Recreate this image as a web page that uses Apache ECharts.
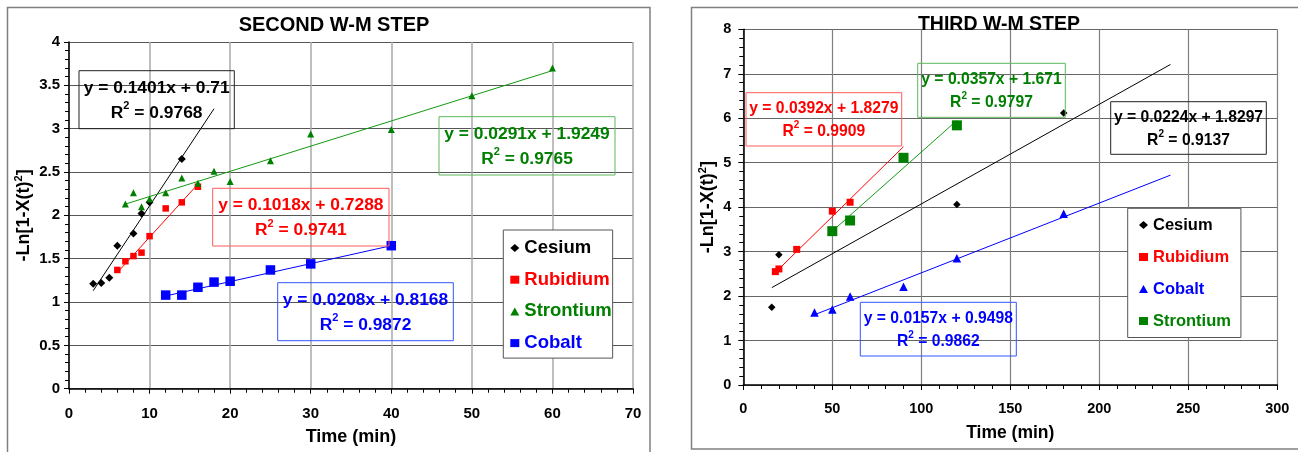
<!DOCTYPE html>
<html>
<head>
<meta charset="utf-8">
<script src="https://cdn.jsdelivr.net/npm/echarts@6/dist/echarts.min.js"></script>
<style>
html, body { margin: 0; padding: 0; background: #fff; }
#chart { width: 1298px; height: 452px; }
</style>
</head>
<body>
<div id="chart"></div>
<script>
// SECOND W-M STEP  [time (min), -Ln[1-X(t)^2]]
var secCesium = [[3, 1.21], [4, 1.22], [5, 1.28], [6, 1.65], [8, 1.79], [9, 2.02], [10, 2.15], [14, 2.65]];
var secRubidium = [[6, 1.37], [7, 1.47], [8, 1.53], [9, 1.57], [10, 1.76], [12, 2.08], [14, 2.15], [16, 2.33]];
var secStrontium = [[7, 2.13], [8, 2.26], [9, 2.10], [10, 2.19], [12, 2.26], [14, 2.43], [16, 2.37], [18, 2.51],
	[20, 2.39], [25, 2.63], [30, 2.94], [40, 2.99], [50, 3.38], [60, 3.70]];
var secCobalt = [[12, 1.08], [14, 1.08], [16, 1.17], [18, 1.23], [20, 1.24], [25, 1.37], [30, 1.44], [40, 1.65]];
// trend line end points
var secCesiumFit = [[3, 1.13], [18, 3.23]];
var secRubidiumFit = [[6, 1.34], [16, 2.36]];
var secStrontiumFit = [[7, 2.13], [60, 3.67]];
var secCobaltFit = [[12, 1.07], [40, 1.65]];
var secEquations = ['y = 0.1401x + 0.71', 'y = 0.1018x + 0.7288', 'y = 0.0291x + 1.9249', 'y = 0.0208x + 0.8168'];
var secR2 = ['0.9768', '0.9741', '0.9765', '0.9872'];

// THIRD W-M STEP
var thiCesium = [[16, 1.75], [20, 2.93], [120, 4.06], [180, 6.12]];
var thiRubidium = [[18, 2.55], [20, 2.61], [30, 3.05], [50, 3.91], [60, 4.11]];
var thiCobalt = [[40, 1.63], [50, 1.70], [60, 1.99], [90, 2.21], [120, 2.85], [180, 3.85]];
var thiStrontium = [[50, 3.46], [60, 3.70], [90, 5.11], [120, 5.84]];
var thiCesiumFit = [[16, 2.19], [240, 7.21]];
var thiRubidiumFit = [[18, 2.53], [90, 5.36]];
var thiCobaltFit = [[40, 1.58], [240, 4.72]];
var thiStrontiumFit = [[50, 3.46], [120, 5.95]];
var thiEquations = ['y = 0.0224x + 1.8297', 'y = 0.0392x + 1.8279', 'y = 0.0157x + 0.9498', 'y = 0.0357x + 1.671'];
var thiR2 = ['0.9137', '0.9909', '0.9862', '0.9797'];

var titles = ['SECOND W-M STEP', 'THIRD W-M STEP'];
var xName = 'Time (min)';
var yName = '-Ln[1-X(t){s|2}]';

var FONT = 'Liberation Sans, Arial, sans-serif';
var BLACK = '#000000', RED = '#ff0000', GREEN = '#008000', BLUE = '#0000ff';

function pts(name, data, gi, symbol, size, color) {
	return {
		name: name, type: 'scatter', xAxisIndex: gi, yAxisIndex: gi,
		symbol: symbol, symbolSize: size, data: data, z: 4,
		itemStyle: { color: color, opacity: 1 }
	};
}

function fit(data, gi, color) {
	return {
		name: 'fit', type: 'line', xAxisIndex: gi, yAxisIndex: gi,
		data: data, symbol: 'none', silent: true, z: 3,
		lineStyle: { color: color, width: 1 }
	};
}

function xAxisOf(gi, max, interval, fs, margin, gap, splitColor, splitWidth) {
	return {
		type: 'value', gridIndex: gi, min: 0, max: max, interval: interval,
		name: xName, nameLocation: 'middle', nameGap: gap,
		nameTextStyle: { fontSize: fs + 3, fontWeight: 'bold', color: BLACK, fontFamily: FONT },
		axisLine: { show: true, onZero: false, lineStyle: { color: BLACK, width: 1.5 } },
		axisTick: { show: true, length: 5, lineStyle: { color: BLACK } },
		minorTick: { show: true, splitNumber: 5, length: 4, lineStyle: { color: BLACK } },
		axisLabel: { fontSize: fs, fontWeight: 'bold', color: BLACK, fontFamily: FONT, margin: margin },
		splitLine: { show: true, lineStyle: { color: splitColor, width: splitWidth } }
	};
}

function yAxisOf(gi, max, interval, fs, margin, gap, splitColor) {
	return {
		type: 'value', gridIndex: gi, min: 0, max: max, interval: interval,
		name: yName, nameLocation: 'middle', nameGap: gap, nameRotate: 90,
		nameTextStyle: {
			fontSize: 18, fontWeight: 'bold', color: BLACK, fontFamily: FONT, lineHeight: 22,
			rich: { s: { fontSize: 11, fontWeight: 'bold', color: BLACK, fontFamily: FONT, verticalAlign: 'top', lineHeight: 16 } }
		},
		axisLine: { show: true, onZero: false, lineStyle: { color: BLACK, width: 1.5 } },
		axisTick: { show: true, length: 5, lineStyle: { color: BLACK } },
		minorTick: { show: true, splitNumber: 5, length: 4, lineStyle: { color: BLACK } },
		axisLabel: { fontSize: fs, fontWeight: 'bold', color: BLACK, fontFamily: FONT, margin: margin },
		splitLine: { show: true, lineStyle: { color: splitColor, width: 1 } }
	};
}

function legendItem(name, icon, color) {
	return { name: name, icon: icon, textStyle: { color: color } };
}

// equation box: rect + centred two-line rich text
function eqBox(x, y, w, h, eq, r2, color, border, fs, lh) {
	var m = { fontSize: fs, fontWeight: 'bold', fontFamily: FONT, fill: color, lineHeight: lh };
	var s = { fontSize: Math.round(fs * 0.65), fontWeight: 'bold', fontFamily: FONT, fill: color, lineHeight: lh - 5, verticalAlign: 'top' };
	return [
		{ type: 'rect', shape: { x: x, y: y, width: w, height: h }, style: { fill: 'none', stroke: border, lineWidth: 1 }, z: 10 },
		{
			type: 'text', x: x + w / 2, y: y + h / 2 + 1, z: 11,
			style: {
				text: '{m|' + eq + '}\n{m|R}{s|2}{m| = ' + r2 + '}',
				align: 'center', verticalAlign: 'middle',
				rich: { m: m, s: s }
			}
		}
	];
}

var graphics = [
	{ type: 'rect', shape: { x: 7.5, y: 7.5, width: 642.5, height: 470 }, style: { fill: 'none', stroke: '#808080', lineWidth: 1.5 }, z: 1 },
	{ type: 'rect', shape: { x: 691.5, y: 7.5, width: 640, height: 441.5 }, style: { fill: 'none', stroke: '#808080', lineWidth: 1.5 }, z: 1 },
	{ type: 'text', x: 334, y: 25, z: 10, style: { text: titles[0], align: 'center', verticalAlign: 'middle', fontSize: 20, fontWeight: 'bold', fontFamily: FONT, fill: BLACK } },
	{ type: 'text', x: 999, y: 24.5, z: 10, style: { text: titles[1], align: 'center', verticalAlign: 'middle', fontSize: 19.5, fontWeight: 'bold', fontFamily: FONT, fill: BLACK } }
];
graphics = graphics
	.concat(eqBox(79, 70.7, 155.3, 58, secEquations[0], secR2[0], BLACK, '#222222', 17.4, 25))
	.concat(eqBox(212.7, 188.3, 176.3, 57.7, secEquations[1], secR2[1], RED, '#ff5a5a', 17.4, 25))
	.concat(eqBox(439, 116.7, 176, 58.3, secEquations[2], secR2[2], GREEN, '#5cb85c', 17.4, 25))
	.concat(eqBox(277.7, 282.7, 175.6, 58, secEquations[3], secR2[3], BLUE, '#3355ff', 17.4, 25))
	.concat(eqBox(1110.7, 101.7, 155.6, 52.6, thiEquations[0], thiR2[0], BLACK, '#222222', 15.7, 23))
	.concat(eqBox(746, 92.7, 155.7, 53.3, thiEquations[1], thiR2[1], RED, '#ff5a5a', 15.7, 23))
	.concat(eqBox(860.3, 302.3, 156, 53.7, thiEquations[2], thiR2[2], BLUE, '#3355ff', 15.7, 23))
	.concat(eqBox(917.7, 63.3, 147.6, 54, thiEquations[3], thiR2[3], GREEN, '#5cb85c', 15.7, 23));

var chart = echarts.init(document.getElementById('chart'), null, { renderer: 'canvas' });

var option = {
	backgroundColor: '#ffffff',
	animation: false,
	textStyle: { fontFamily: FONT },
	grid: [
		{ left: 69, top: 42, width: 564, height: 346.7, containLabel: false },
		{ left: 743.3, top: 29.3, width: 534, height: 355.7, containLabel: false }
	],
	xAxis: [
		xAxisOf(0, 70, 10, 15, 18, 39, '#a8a8a8', 1.5),
		xAxisOf(1, 300, 50, 14.5, 16, 39, '#808080', 1.2)
	],
	yAxis: [
		yAxisOf(0, 4, 0.5, 15, 9, 29, '#555555'),
		yAxisOf(1, 8, 1, 14.5, 12, 19, '#666666')
	],
	legend: [
		{
			orient: 'vertical', left: 503.3, top: 230, padding: [8, 1, 5, 7], itemGap: 11.7,
			itemWidth: 9, itemHeight: 8, selectedMode: false,
			backgroundColor: '#ffffff', borderColor: '#555555', borderWidth: 1,
			textStyle: { fontSize: 18.5, fontWeight: 'bold', fontFamily: FONT, lineHeight: 20 },
			data: [
				legendItem('Cesium', 'diamond', BLACK),
				legendItem('Rubidium', 'rect', RED),
				legendItem('Strontium', 'triangle', GREEN),
				legendItem('Cobalt', 'rect', BLUE)
			]
		},
		{
			orient: 'vertical', left: 1127.7, top: 208.3, padding: [7.7, 10, 7.5, 11.3], itemGap: 14,
			itemWidth: 9, itemHeight: 8, selectedMode: false,
			backgroundColor: '#ffffff', borderColor: '#555555', borderWidth: 1,
			textStyle: { fontSize: 16.5, fontWeight: 'bold', fontFamily: FONT, lineHeight: 18 },
			data: [
				legendItem('Cesium', 'diamond', BLACK),
				legendItem('Rubidium', 'rect', RED),
				legendItem('Cobalt', 'triangle', BLUE),
				legendItem('Strontium', 'rect', GREEN)
			]
		}
	],
	graphic: graphics,
	series: [
		fit(secCesiumFit, 0, BLACK),
		fit(secRubidiumFit, 0, RED),
		fit(secStrontiumFit, 0, '#109a10'),
		fit(secCobaltFit, 0, BLUE),
		pts('Cesium', secCesium, 0, 'diamond', 8, BLACK),
		pts('Rubidium', secRubidium, 0, 'rect', 6.5, RED),
		pts('Strontium', secStrontium, 0, 'triangle', 7, GREEN),
		pts('Cobalt', secCobalt, 0, 'rect', 9.5, BLUE),

		fit(thiCesiumFit, 1, BLACK),
		fit(thiRubidiumFit, 1, RED),
		fit(thiCobaltFit, 1, BLUE),
		fit(thiStrontiumFit, 1, '#109a10'),
		pts('Cesium', thiCesium, 1, 'diamond', 7.5, BLACK),
		pts('Rubidium', thiRubidium, 1, 'rect', 7, RED),
		pts('Cobalt', thiCobalt, 1, 'triangle', 8.5, BLUE),
		pts('Strontium', thiStrontium, 1, 'rect', 10, GREEN)
	]
};

chart.setOption(option, true);
</script>
</body>
</html>
